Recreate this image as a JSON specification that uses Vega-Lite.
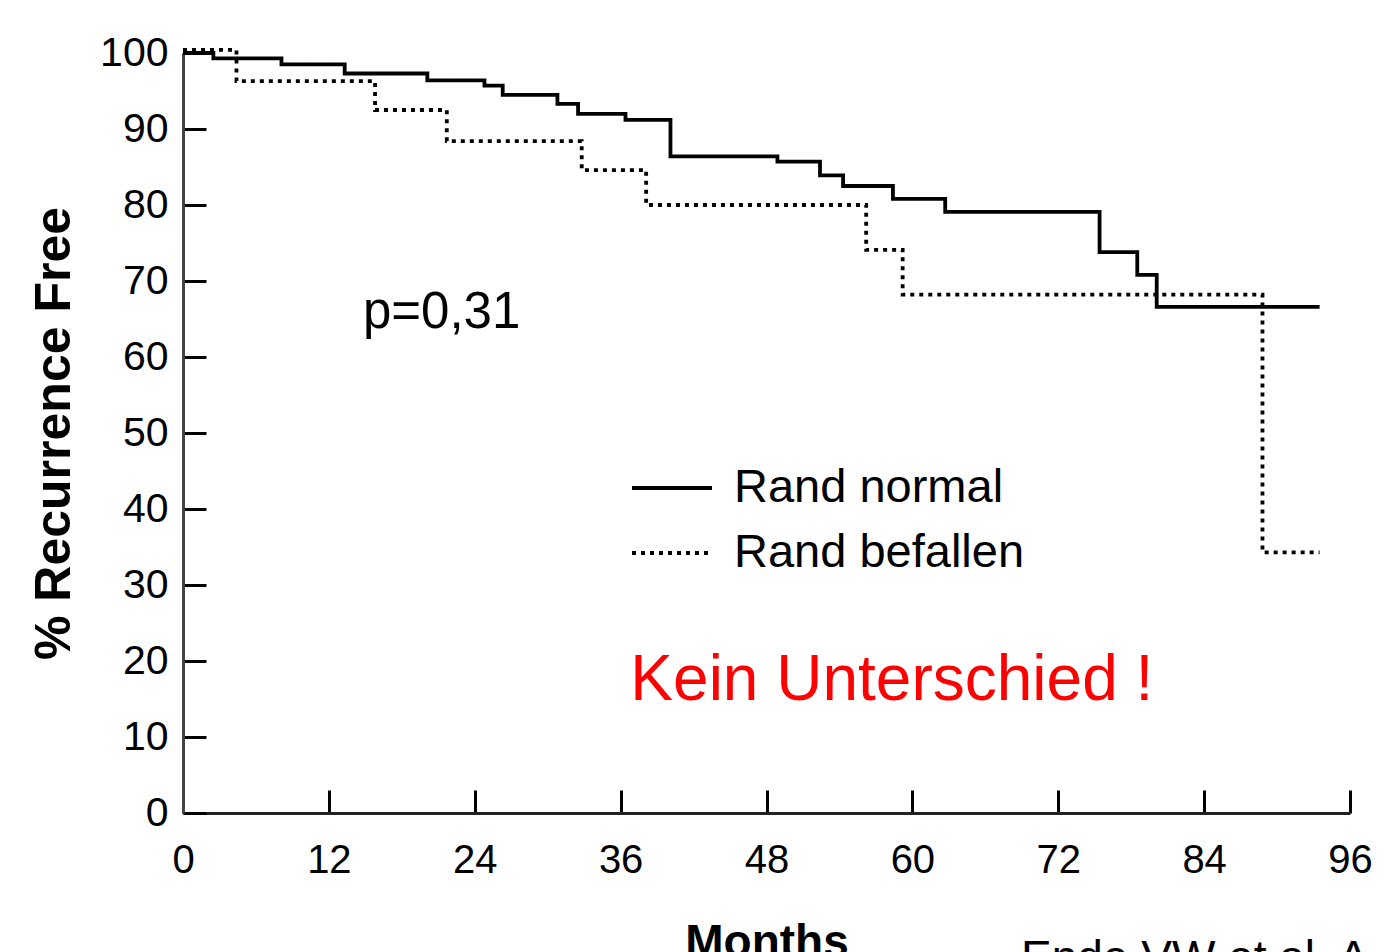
{
  "$schema": "https://vega.github.io/schema/vega-lite/v6.json",
  "width": 1167,
  "height": 760,
  "autosize": {"type": "none"},
  "padding": {"left": 183, "top": 53, "right": 46, "bottom": 139},
  "background": "white",
  "config": {"font": "Liberation Sans", "view": {"stroke": null}},
  "title": {"text": "Ende VW et al. A", "orient": "bottom", "anchor": "start", "frame": "group", "dx": 838, "offset": -28, "fontSize": 46, "fontWeight": "normal", "color": "black"},
  "layer": [
    {
      "data": {"values": [
        {"group": "Rand normal", "month": 0, "pct": 100},
        {"group": "Rand normal", "month": 2.5, "pct": 99.3},
        {"group": "Rand normal", "month": 8.1, "pct": 98.5},
        {"group": "Rand normal", "month": 13.3, "pct": 97.3},
        {"group": "Rand normal", "month": 20.1, "pct": 96.4},
        {"group": "Rand normal", "month": 24.8, "pct": 95.7},
        {"group": "Rand normal", "month": 26.3, "pct": 94.5},
        {"group": "Rand normal", "month": 30.8, "pct": 93.3},
        {"group": "Rand normal", "month": 32.5, "pct": 92.0},
        {"group": "Rand normal", "month": 36.4, "pct": 91.2},
        {"group": "Rand normal", "month": 40.1, "pct": 86.4},
        {"group": "Rand normal", "month": 48.9, "pct": 85.7},
        {"group": "Rand normal", "month": 52.4, "pct": 83.9},
        {"group": "Rand normal", "month": 54.3, "pct": 82.5},
        {"group": "Rand normal", "month": 58.4, "pct": 80.8},
        {"group": "Rand normal", "month": 62.7, "pct": 79.1},
        {"group": "Rand normal", "month": 75.4, "pct": 73.8},
        {"group": "Rand normal", "month": 78.5, "pct": 70.8},
        {"group": "Rand normal", "month": 80.1, "pct": 66.6},
        {"group": "Rand normal", "month": 93.5, "pct": 66.6},
        {"group": "Rand befallen", "month": 0, "pct": 100.4},
        {"group": "Rand befallen", "month": 4.4, "pct": 96.3},
        {"group": "Rand befallen", "month": 15.8, "pct": 92.5},
        {"group": "Rand befallen", "month": 21.7, "pct": 88.4},
        {"group": "Rand befallen", "month": 32.8, "pct": 84.6},
        {"group": "Rand befallen", "month": 38.1, "pct": 80.0},
        {"group": "Rand befallen", "month": 56.2, "pct": 74.1},
        {"group": "Rand befallen", "month": 59.2, "pct": 68.2},
        {"group": "Rand befallen", "month": 88.8, "pct": 34.3},
        {"group": "Rand befallen", "month": 93.5, "pct": 34.3}
      ]},
      "mark": {"type": "line", "interpolate": "step-after", "color": "black", "strokeWidth": 3.8, "clip": false},
      "encoding": {
        "x": {
          "field": "month", "type": "quantitative",
          "scale": {"domain": [0, 96], "nice": false, "zero": false},
          "axis": {
            "values": [0, 12, 24, 36, 48, 60, 72, 84, 96],
            "title": "Months", "titleFontSize": 46, "titleFontWeight": "bold", "titleColor": "black", "titlePadding": 40,
            "labelFontSize": 40, "labelColor": "black", "labelPadding": 50, "labelFlush": false, "labelOverlap": false,
            "tickSize": -23, "tickWidth": 3, "tickColor": "black",
            "domainColor": "#222", "domainWidth": 3, "grid": false
          }
        },
        "y": {
          "field": "pct", "type": "quantitative",
          "scale": {"domain": [0, 100], "nice": false, "zero": false},
          "axis": {
            "values": [0, 10, 20, 30, 40, 50, 60, 70, 80, 90, 100],
            "title": "% Recurrence Free", "titleFontSize": 50, "titleFontWeight": "bold", "titleColor": "black", "titlePadding": 20,
            "labelFontSize": 41, "labelColor": "black", "labelPadding": 38, "labelOverlap": false, "labelFlush": false,
            "tickSize": -23, "tickWidth": 3, "tickColor": "black",
            "domainColor": "#444", "domainWidth": 3, "grid": false
          }
        },
        "strokeDash": {
          "field": "group", "type": "nominal",
          "scale": {"domain": ["Rand normal", "Rand befallen"], "range": [[1, 0], [4, 5]]},
          "legend": {
            "title": null, "orient": "none", "legendX": 447, "legendY": 393,
            "symbolType": "stroke", "symbolSize": 6400, "symbolStrokeWidth": 3.8, "symbolStrokeColor": "black",
            "labelFontSize": 47, "labelColor": "black", "labelOffset": 20, "labelLimit": 0,
            "rowPadding": -25, "padding": 0
          }
        }
      }
    },
    {
      "data": {"values": [{"month": 14.8, "pct": 63.8, "label": "p=0,31"}]},
      "mark": {"type": "text", "align": "left", "baseline": "alphabetic", "fontSize": 51, "color": "black"},
      "encoding": {
        "x": {"field": "month", "type": "quantitative"},
        "y": {"field": "pct", "type": "quantitative"},
        "text": {"field": "label"}
      }
    },
    {
      "data": {"values": [{"month": 36.8, "pct": 14.9, "label": "Kein Unterschied !"}]},
      "mark": {"type": "text", "align": "left", "baseline": "alphabetic", "fontSize": 64, "color": "#ff0000"},
      "encoding": {
        "x": {"field": "month", "type": "quantitative"},
        "y": {"field": "pct", "type": "quantitative"},
        "text": {"field": "label"}
      }
    }
  ]
}
